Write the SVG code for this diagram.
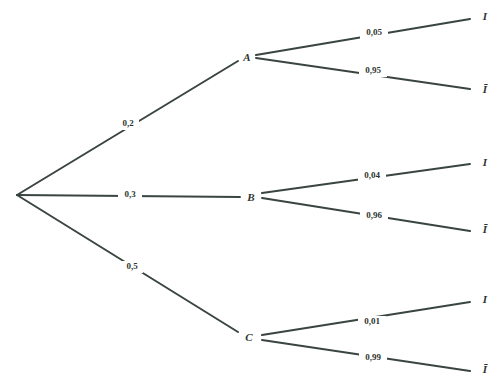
<svg xmlns="http://www.w3.org/2000/svg" width="494" height="378" viewBox="0 0 494 378">
<style>
.e{stroke:#3b4540;stroke-width:2;fill:none;stroke-linecap:round}
.lb{font-family:"Liberation Serif",serif;font-size:9px;font-weight:bold;fill:#2e3530;text-anchor:middle;dominant-baseline:middle}
.bg{fill:#ffffff}
.n{font-family:"Liberation Serif",serif;font-size:11px;font-weight:bold;font-style:italic;fill:#2e3530;text-anchor:middle;dominant-baseline:middle}
</style>
<rect width="494" height="378" fill="#ffffff"/>
<g id="connectors">
<line class="e" x1="17" y1="195" x2="238" y2="61"/>
<line class="e" x1="17" y1="195" x2="240" y2="197"/>
<line class="e" x1="17" y1="195" x2="238" y2="332"/>
<line class="e" x1="256" y1="55" x2="470" y2="19"/>
<line class="e" x1="256" y1="58" x2="470" y2="89"/>
<line class="e" x1="262" y1="193" x2="470" y2="164"/>
<line class="e" x1="262" y1="198" x2="470" y2="231"/>
<line class="e" x1="262" y1="335" x2="470" y2="302"/>
<line class="e" x1="262" y1="340" x2="470" y2="371"/>
<rect class="bg" x="117" y="118" width="22" height="12"/>
<text class="lb" x="128" y="124">0,2</text>
<rect class="bg" x="118" y="189" width="24" height="12"/>
<text class="lb" x="130" y="195">0,3</text>
<rect class="bg" x="121" y="261" width="22" height="12"/>
<text class="lb" x="132" y="267">0,5</text>
<rect class="bg" x="360" y="27" width="28" height="12"/>
<text class="lb" x="374" y="33">0,05</text>
<rect class="bg" x="359" y="65" width="28" height="12"/>
<text class="lb" x="373" y="71">0,95</text>
<rect class="bg" x="358" y="170" width="28" height="12"/>
<text class="lb" x="372" y="176">0,04</text>
<rect class="bg" x="360" y="210" width="28" height="12"/>
<text class="lb" x="374" y="216">0,96</text>
<rect class="bg" x="358" y="316" width="28" height="12"/>
<text class="lb" x="372" y="322">0,01</text>
<rect class="bg" x="359" y="352" width="28" height="12"/>
<text class="lb" x="373" y="358">0,99</text>
</g>
<g id="A"><text class="n" x="247" y="58">A</text></g>
<g id="B"><text class="n" x="251" y="198">B</text></g>
<g id="C"><text class="n" x="249" y="338">C</text></g>
<g id="A_I"><text class="n" x="485" y="17">I</text></g>
<g id="A_notI"><text class="n" x="485" y="90">Ī</text></g>
<g id="B_I"><text class="n" x="485" y="163">I</text></g>
<g id="B_notI"><text class="n" x="485" y="230">Ī</text></g>
<g id="C_I"><text class="n" x="485" y="300">I</text></g>
<g id="C_notI"><text class="n" x="485" y="370">Ī</text></g>
</svg>
